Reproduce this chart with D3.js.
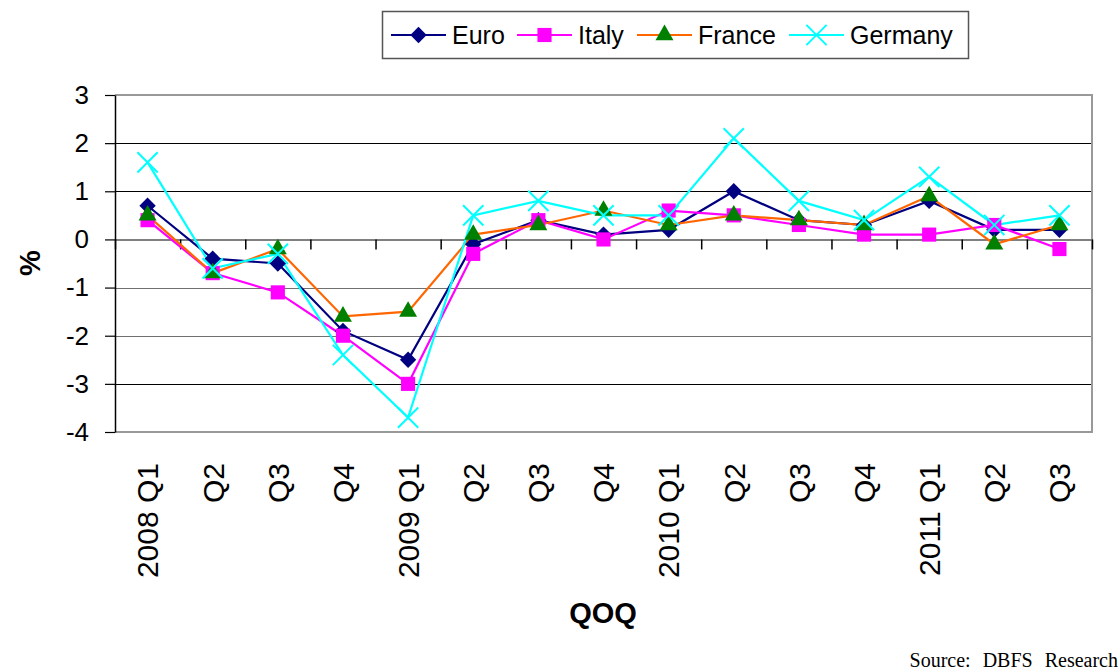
<!DOCTYPE html>
<html>
<head>
<meta charset="utf-8">
<script src="https://cdn.jsdelivr.net/npm/d3@7"></script>
<style>
  body { margin: 0; background: #fff; }
  svg text { font-family: "Liberation Sans", Arial, sans-serif; }
</style>
</head>
<body>
<div id="chart"></div>
<script>
// quarters on the x axis
const quarters = ["2008 Q1", "Q2", "Q3", "Q4", "2009 Q1", "Q2", "Q3", "Q4",
                  "2010 Q1", "Q2", "Q3", "Q4", "2011 Q1", "Q2", "Q3"];

// QOQ growth, %
const euro    = [0.7, -0.4, -0.5, -1.9, -2.5, -0.1, 0.4, 0.1, 0.2, 1.0, 0.4, 0.3, 0.8, 0.2, 0.2];
const italy   = [0.4, -0.7, -1.1, -2.0, -3.0, -0.3, 0.4, 0.0, 0.6, 0.5, 0.3, 0.1, 0.1, 0.3, -0.2];
const france  = [0.5, -0.7, -0.2, -1.6, -1.5, 0.1, 0.3, 0.6, 0.3, 0.5, 0.4, 0.3, 0.9, -0.1, 0.3];
const germany = [1.6, -0.6, -0.3, -2.4, -3.7, 0.5, 0.8, 0.5, 0.5, 2.1, 0.8, 0.4, 1.3, 0.3, 0.5];

const yTicks = [3, 2, 1, 0, -1, -2, -3, -4];

const width = 1120, height = 671;
const plot = { left: 115, right: 1092, top: 95, bottom: 432 };

const series = [
  { name: "Euro",    values: euro,    line: "#000080", fill: "#000080", sym: d3.symbolDiamond2, size: 170 },
  { name: "Italy",   values: italy,   line: "#ff00ff", fill: "#ff00ff", sym: d3.symbolSquare,   size: 200 },
  { name: "France",  values: france,  line: "#ff6600", fill: "#008000", sym: d3.symbolTriangle, size: 140 },
  { name: "Germany", values: germany, line: "#00ffff", fill: "none",    sym: d3.symbolX,        size: 270 }
];

const svg = d3.select("#chart").append("svg")
  .attr("width", width)
  .attr("height", height);

const x = d3.scaleBand()
  .domain(d3.range(quarters.length))
  .range([plot.left, plot.right]);

// boundaries between categories, for the tick marks
const xEdge = d3.scaleLinear()
  .domain([0, quarters.length])
  .range([plot.left, plot.right]);

const y = d3.scaleLinear()
  .domain([-4, 3])
  .range([plot.bottom, plot.top]);

// gridlines
svg.append("g")
  .selectAll("line")
  .data(yTicks.filter(d => d !== 0 && d !== 3 && d !== -4))
  .enter()
  .append("line")
  .attr("x1", plot.left)
  .attr("x2", plot.right)
  .attr("y1", d => Math.round(y(d)) + 0.5)
  .attr("y2", d => Math.round(y(d)) + 0.5)
  .attr("stroke", d => (d === -1 || d === -2) ? "#707070" : "#000")
  .attr("stroke-width", 1.2);

// plot frame (top, right, bottom)
svg.append("path")
  .attr("d", `M${plot.left},${y(3)}H${plot.right}V${y(-4)}H${plot.left}`)
  .attr("fill", "none")
  .attr("stroke", "#999")
  .attr("stroke-width", 2);

// zero line with category ticks
const zeroAxis = svg.append("g")
  .attr("transform", `translate(0,${y(0)})`)
  .call(d3.axisBottom(xEdge).tickValues(d3.range(quarters.length + 1))
    .tickSize(10).tickSizeOuter(0).tickFormat(""));
zeroAxis.select(".domain").attr("stroke", "#808080").attr("stroke-width", 2);
zeroAxis.selectAll(".tick line").attr("stroke", "#000").attr("stroke-width", 1.5);

// y axis
const yAxis = svg.append("g")
  .attr("transform", `translate(${plot.left},0)`)
  .call(d3.axisLeft(y).tickValues(yTicks).tickFormat(d => String(d))
    .tickSize(10).tickPadding(16).tickSizeOuter(0));
yAxis.select(".domain").attr("stroke", "#000").attr("stroke-width", 1.5);
yAxis.selectAll(".tick line").attr("stroke", "#000").attr("stroke-width", 1.2);
yAxis.selectAll("text")
  .attr("fill", "#000")
  .style("font-size", "26px")
  .style("font-family", "'Liberation Sans', Arial, sans-serif");

// category labels, rotated
const xAxis = svg.append("g")
  .attr("transform", `translate(0,${plot.bottom})`)
  .call(d3.axisBottom(x).tickSize(0).tickFormat(i => quarters[i]));
xAxis.select(".domain").remove();
xAxis.selectAll("text")
  .attr("fill", "#000")
  .style("font-size", "30px")
  .style("font-family", "'Liberation Sans', Arial, sans-serif")
  .style("text-anchor", "end")
  .attr("transform", "rotate(-90)")
  .attr("x", -31)
  .attr("y", 0)
  .attr("dy", "0.36em");

// lines and markers
const line = d3.line()
  .x((d, i) => x(i) + x.bandwidth() / 2)
  .y(d => y(d));

series.forEach(s => {
  svg.append("path")
    .datum(s.values)
    .attr("d", line)
    .attr("fill", "none")
    .attr("stroke", s.line)
    .attr("stroke-width", 2.2);
});

series.forEach(s => {
  svg.append("g")
    .selectAll("path")
    .data(s.values)
    .enter()
    .append("path")
    .attr("transform", (d, i) => `translate(${x(i) + x.bandwidth() / 2},${y(d)})`)
    .attr("d", d3.symbol().type(s.sym).size(s.size))
    .attr("fill", s.fill)
    .attr("stroke", s.fill === "none" ? s.line : "none")
    .attr("stroke-width", 2);
});

// axis titles
svg.append("text")
  .attr("transform", "translate(40,263) rotate(-90)")
  .attr("text-anchor", "middle")
  .style("font-size", "29px")
  .style("font-weight", "bold")
  .text("%");

svg.append("text")
  .attr("x", 603)
  .attr("y", 623)
  .attr("text-anchor", "middle")
  .style("font-size", "29px")
  .style("font-weight", "bold")
  .text("QOQ");

// legend
const legend = svg.append("g");
legend.append("rect")
  .attr("x", 382.5)
  .attr("y", 11.5)
  .attr("width", 586)
  .attr("height", 47)
  .attr("fill", "#fff")
  .attr("stroke", "#555")
  .attr("stroke-width", 1.5);

const legendX = [391, 517, 637, 789];
series.forEach((s, i) => {
  const g = legend.append("g").attr("transform", `translate(${legendX[i]},35)`);
  g.append("line")
    .attr("x1", 0).attr("x2", 55)
    .attr("stroke", s.line)
    .attr("stroke-width", 2.2);
  g.append("path")
    .attr("transform", "translate(27.5,0)")
    .attr("d", d3.symbol().type(s.sym).size(s.size))
    .attr("fill", s.fill)
    .attr("stroke", s.fill === "none" ? s.line : "none")
    .attr("stroke-width", 2);
  g.append("text")
    .attr("x", 61)
    .attr("dy", "0.35em")
    .style("font-size", "25px")
    .text(s.name);
});

// source note
svg.append("text")
  .attr("x", 1118)
  .attr("y", 667)
  .attr("text-anchor", "end")
  .style("font-family", "'Liberation Serif', 'Times New Roman', serif")
  .style("font-size", "20px")
  .style("word-spacing", "7px")
  .text("Source: DBFS Research");
</script>
</body>
</html>
